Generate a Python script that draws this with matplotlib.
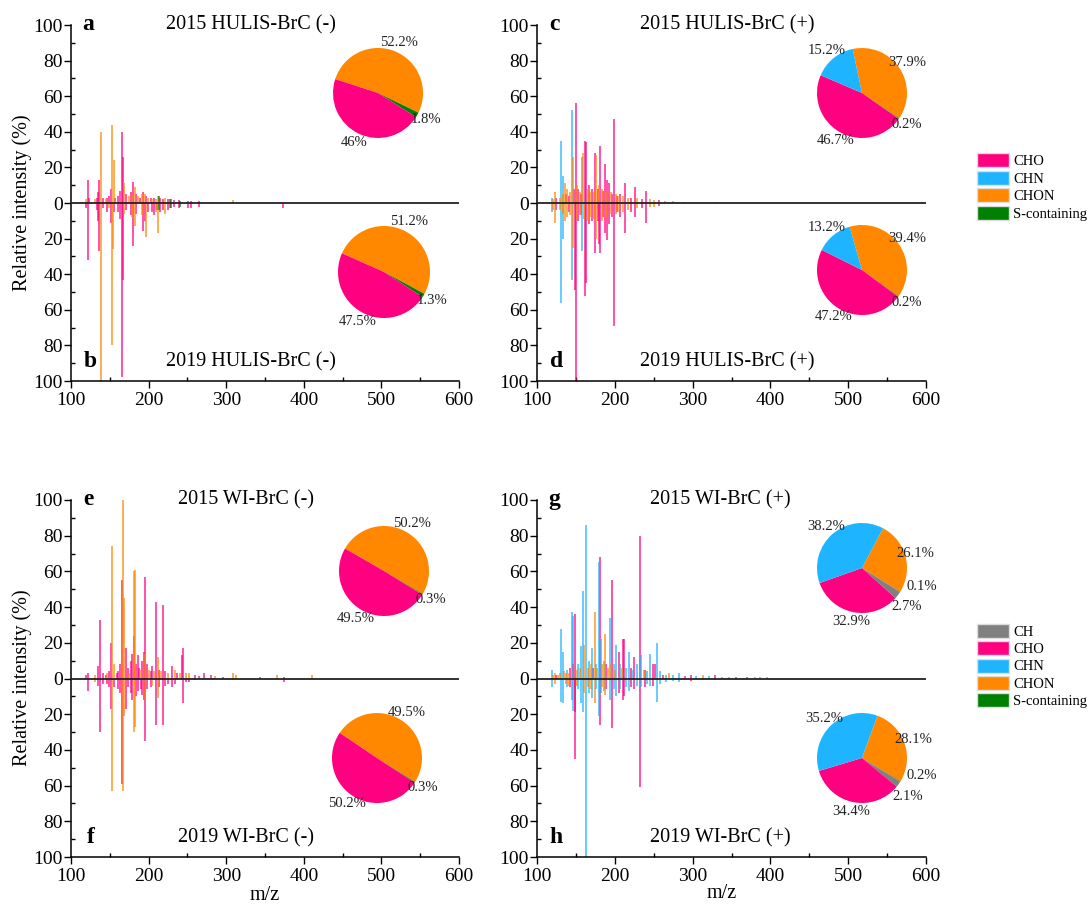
import numpy as np
import matplotlib.pyplot as plt
from matplotlib.patches import Patch
from matplotlib.ticker import MultipleLocator

plt.rcParams['font.family'] = ['Liberation Serif', 'DejaVu Serif']

# class colours
colors = {'CH': '#808080', 'CHO': '#FF0080', 'CHN': '#1EB4FF',
          'CHON': '#FF8800', 'S': '#008000'}

# peaks: (m/z, relative intensity %, class)
hulis_neg_2015 = [
    (119, 2, 'CHON'), (121.5, 13, 'CHO'), (123, 3, 'CHO'), (131, 2, 'CHON'), (133, 3, 'CHO'),
    (135, 6, 'CHO'), (136.5, 13, 'CHO'), (138.7, 40, 'CHON'), (141, 3, 'CHO'), (145, 2, 'CHON'),
    (147, 3, 'CHO'), (149, 4, 'CHO'), (151, 8, 'CHO'), (152.4, 44, 'CHON'), (155, 24, 'CHON'),
    (157, 3, 'CHO'), (161, 4, 'CHO'), (163, 7, 'CHO'), (165.7, 40, 'CHO'), (167, 26, 'CHO'),
    (168.5, 11, 'CHON'), (171, 5, 'CHO'), (175, 4, 'CHON'), (177, 6, 'CHO'), (179, 4, 'CHON'),
    (180.3, 12, 'CHO'), (182, 9, 'CHON'), (184, 5, 'CHO'), (186, 4, 'CHON'), (189, 3, 'CHO'),
    (191, 5, 'CHON'), (193, 6, 'CHO'), (195, 5, 'CHON'), (197, 4, 'CHO'), (199, 3, 'CHON'),
    (203, 3, 'CHO'), (205, 2, 'CHON'), (207, 3, 'CHO'), (209, 2, 'CHON'), (212, 4, 'CHON'),
    (213, 4, 'S'), (215, 3, 'CHO'), (219, 2, 'CHO'), (221, 3, 'CHON'), (225, 2, 'CHO'),
    (227, 2, 'S'), (229, 2, 'CHO'), (233, 1.5, 'CHO'), (239, 1.5, 'CHO'), (241, 1, 'S'),
    (251, 1, 'CHO'), (255, 1, 'CHO'), (265, 1, 'CHO'), (283, 0.8, 'CHO'), (309, 1.5, 'CHON'),
]
hulis_neg_2019 = [
    (119, 3, 'CHO'), (121.5, 32, 'CHO'), (133, 4, 'CHO'), (135, 10, 'CHO'), (136.5, 27, 'CHO'),
    (138.7, 100, 'CHON'), (141, 3, 'CHO'), (147, 5, 'CHO'), (149, 3, 'CHON'), (151, 11, 'CHO'),
    (152.4, 80, 'CHON'), (153.5, 26, 'CHON'), (155, 5, 'CHO'), (161, 5, 'CHO'), (163, 9, 'CHO'),
    (165.7, 98, 'CHO'), (167, 43, 'CHO'), (168.5, 6, 'CHON'), (171, 4, 'CHO'), (177, 7, 'CHO'),
    (179, 8, 'CHON'), (180.3, 24, 'CHO'), (182, 13, 'CHON'), (184, 6, 'CHO'), (191, 7, 'CHON'),
    (193, 16, 'CHO'), (195, 10, 'CHO'), (197, 19, 'CHON'), (199, 5, 'CHO'), (205, 5, 'CHO'),
    (207, 7, 'CHO'), (209, 5, 'CHON'), (211, 4, 'CHO'), (212.5, 17, 'CHON'), (213, 4, 'S'),
    (215, 5, 'CHO'), (219, 4, 'CHO'), (221, 6, 'CHON'), (225, 4, 'CHO'), (227, 3, 'CHO'),
    (229, 3, 'S'), (233, 2, 'CHO'), (239, 3, 'CHO'), (241, 2, 'S'), (251, 3, 'CHO'),
    (255, 3, 'CHO'), (265, 2, 'CHO'), (373, 3, 'CHO'),
]
hulis_pos_2015 = [
    (119, 3, 'CHN'), (121, 2, 'CHON'), (123, 6, 'CHON'), (125, 3, 'CHO'), (129, 3, 'CHON'),
    (131, 35, 'CHN'), (133, 5, 'CHON'), (134, 15, 'CHN'), (136, 11, 'CHON'), (137, 5, 'CHO'),
    (139, 8, 'CHON'), (141, 4, 'CHO'), (143, 6, 'CHON'), (144.7, 52, 'CHN'), (146, 26, 'CHON'),
    (147, 8, 'CHO'), (149.9, 56, 'CHO'), (151, 10, 'CHON'), (153, 8, 'CHO'), (155, 6, 'CHON'),
    (157, 5, 'CHO'), (158.4, 26, 'CHN'), (159.5, 28, 'CHON'), (161.9, 35, 'CHO'), (163, 34, 'CHO'),
    (165, 8, 'CHON'), (167, 10, 'CHO'), (169, 6, 'CHON'), (171, 8, 'CHO'), (173, 6, 'CHON'),
    (174.8, 28, 'CHO'), (176, 27, 'CHON'), (178, 8, 'CHO'), (180, 10, 'CHON'), (181.6, 32, 'CHO'),
    (183, 8, 'CHON'), (185, 7, 'CHO'), (187, 22, 'CHO'), (189, 6, 'CHON'), (190, 13, 'CHO'),
    (193, 11, 'CHO'), (195, 6, 'CHON'), (197, 5, 'CHO'), (199.3, 47, 'CHO'), (201, 5, 'CHON'),
    (203, 4, 'CHO'), (205, 4, 'CHON'), (207, 5, 'CHO'), (211, 4, 'CHON'), (213.4, 11, 'CHO'),
    (217, 3, 'CHON'), (221, 3, 'CHO'), (225.6, 9, 'CHO'), (229, 3, 'CHON'), (235, 2, 'CHO'),
    (240, 7, 'CHO'), (245, 2, 'CHON'), (251, 1.5, 'CHON'), (257, 1.5, 'CHO'), (265, 1, 'CHON'),
    (275, 1, 'CHON'), (289, 0.6, 'CHO'), (329, 0.8, 'CHO'),
]
hulis_pos_2019 = [
    (119, 5, 'CHN'), (121, 4, 'CHON'), (123, 11, 'CHON'), (125, 4, 'CHO'), (129, 4, 'CHON'),
    (131, 56, 'CHN'), (133, 6, 'CHON'), (134, 20, 'CHN'), (136, 10, 'CHON'), (139, 8, 'CHON'),
    (141, 5, 'CHO'), (143, 7, 'CHON'), (144.7, 43, 'CHN'), (146, 25, 'CHON'), (148.5, 49, 'CHO'),
    (149.9, 100, 'CHO'), (151, 9, 'CHON'), (153, 10, 'CHO'), (155, 7, 'CHON'), (157, 7, 'CHO'),
    (158.4, 27, 'CHN'), (160, 9, 'CHON'), (161.9, 52, 'CHO'), (163, 45, 'CHO'), (165, 10, 'CHON'),
    (167, 12, 'CHO'), (169, 8, 'CHON'), (171, 10, 'CHO'), (173, 9, 'CHON'), (174.8, 28, 'CHO'),
    (176, 20, 'CHON'), (178, 10, 'CHO'), (180, 23, 'CHO'), (181.6, 28, 'CHO'), (183, 10, 'CHON'),
    (185, 8, 'CHO'), (187, 17, 'CHO'), (189, 8, 'CHON'), (190, 21, 'CHO'), (193, 12, 'CHO'),
    (195, 6, 'CHON'), (197, 8, 'CHO'), (199.3, 69, 'CHO'), (201, 6, 'CHON'), (203, 5, 'CHO'),
    (205, 5, 'CHON'), (207, 8, 'CHO'), (211, 5, 'CHON'), (213.4, 17, 'CHO'), (217, 4, 'CHON'),
    (221, 5, 'CHO'), (225.6, 8, 'CHO'), (229, 3, 'CHON'), (235, 3, 'CHO'), (240, 11, 'CHO'),
    (245, 2, 'CHON'), (251, 2, 'CHON'), (257, 1.5, 'CHO'),
]
wi_neg_2015 = [
    (119, 2, 'CHO'), (121.5, 3, 'CHO'), (131, 2, 'CHON'), (135.4, 7, 'CHO'), (137.4, 33, 'CHO'),
    (141, 3, 'CHO'), (145, 2, 'CHO'), (147, 3, 'CHON'), (149, 4, 'CHO'), (151.6, 20, 'CHO'),
    (152.4, 74, 'CHON'), (155, 8, 'CHON'), (159, 3, 'CHO'), (161, 4, 'CHO'), (163, 8, 'CHO'),
    (165.3, 55, 'CHO'), (167, 100, 'CHON'), (168, 45, 'CHON'), (171.2, 17, 'CHO'), (173, 6, 'CHO'),
    (175, 3, 'CHON'), (177, 10, 'CHO'), (179, 14, 'CHO'), (180.6, 60, 'CHON'), (181, 24, 'CHO'),
    (182, 61, 'CHON'), (184, 8, 'CHO'), (186, 13, 'CHO'), (188, 6, 'CHO'), (190, 5, 'CHON'),
    (192, 10, 'CHO'), (194, 15, 'CHO'), (195.4, 57, 'CHO'), (196, 14, 'CHON'), (198, 8, 'CHO'),
    (200, 5, 'CHON'), (203, 4, 'CHO'), (205, 7, 'CHO'), (207, 4, 'CHON'), (209.6, 43, 'CHO'),
    (211.6, 12, 'CHON'), (214, 5, 'CHO'), (216, 4, 'CHON'), (218.2, 41, 'CHO'), (221, 4, 'CHO'),
    (225, 3, 'CHON'), (230, 7, 'CHO'), (234, 5, 'CHON'), (237, 3, 'CHO'), (241, 3, 'CHON'),
    (243.6, 13, 'CHO'), (244.8, 17, 'CHO'), (248, 3, 'CHON'), (252, 3, 'CHON'), (260, 2, 'CHO'),
    (265, 1.5, 'CHO'), (271.7, 3, 'CHO'), (280, 2, 'CHO'), (285, 1.5, 'CHON'), (296, 1, 'CHO'),
    (309, 3, 'CHON'), (312, 2, 'CHON'), (343, 1, 'CHO'), (365, 2, 'CHON'), (374, 1, 'CHO'),
    (410, 2, 'CHON'),
]
wi_neg_2019 = [
    (121.5, 7, 'CHO'), (131, 2, 'CHON'), (135.4, 4, 'CHO'), (137.4, 30, 'CHO'), (141, 3, 'CHO'),
    (147, 3, 'CHO'), (149, 5, 'CHO'), (151.6, 17, 'CHO'), (152.4, 63, 'CHON'), (155, 5, 'CHO'),
    (161, 6, 'CHO'), (163, 8, 'CHO'), (165.3, 59, 'CHO'), (167, 63, 'CHON'), (168, 21, 'CHON'),
    (171.2, 17, 'CHO'), (173, 5, 'CHO'), (177, 8, 'CHO'), (179, 12, 'CHO'), (180.6, 30, 'CHON'),
    (182, 27, 'CHON'), (184, 10, 'CHO'), (186, 7, 'CHO'), (190, 6, 'CHO'), (192, 9, 'CHO'),
    (194, 12, 'CHO'), (195.4, 35, 'CHO'), (196, 12, 'CHON'), (198, 6, 'CHO'), (203, 5, 'CHO'),
    (205, 4, 'CHON'), (209.6, 26, 'CHO'), (211.6, 11, 'CHON'), (214, 5, 'CHO'), (218.2, 26, 'CHO'),
    (221, 4, 'CHO'), (225, 3, 'CHO'), (230, 5, 'CHO'), (234, 3, 'CHO'), (244.8, 14, 'CHO'),
    (248, 2, 'CHO'), (252, 2, 'CHO'), (260, 1, 'CHO'), (374, 2, 'CHO'),
]
wi_pos_2015 = [
    (119, 5, 'CHN'), (121, 2, 'CHON'), (123, 3, 'CHON'), (125, 2, 'CHO'), (127, 2, 'CHON'),
    (129, 3, 'CHON'), (131, 28, 'CHN'), (133, 15, 'CHN'), (135, 4, 'CHON'), (137, 3, 'CHON'),
    (139, 5, 'CHN'), (141, 3, 'CHON'), (143, 6, 'CHO'), (144.7, 37, 'CHN'), (145.7, 8, 'CH'),
    (146.8, 35, 'CHN'), (149.4, 36, 'CHO'), (151, 5, 'CHON'), (153, 8, 'CHN'), (155, 6, 'CHON'),
    (157, 18, 'CHN'), (158.8, 49, 'CHN'), (161, 19, 'CHON'), (163.5, 86, 'CHN'), (165, 6, 'CHON'),
    (167, 10, 'CHN'), (169, 8, 'CHON'), (171, 17, 'CHN'), (172, 6, 'CHO'), (174, 37, 'CHON'),
    (176, 8, 'CHN'), (177, 6, 'CHON'), (179.8, 65, 'CHN'), (180.6, 68, 'CHO'), (182, 22, 'CHN'),
    (184, 8, 'CHON'), (186, 10, 'CHN'), (187.6, 25, 'CHON'), (189, 8, 'CHO'), (191, 6, 'CHON'),
    (194, 34, 'CHN'), (195, 8, 'CHON'), (197, 55, 'CHO'), (199, 8, 'CHN'), (200, 5, 'CHON'),
    (202, 19, 'CHN'), (205, 15, 'CHO'), (207, 8, 'CHN'), (209, 6, 'CHON'), (210, 22, 'CHO'),
    (212.3, 22, 'CHO'), (215, 6, 'CHN'), (218, 15, 'CHN'), (221, 6, 'CHO'), (223, 5, 'CHN'),
    (225, 12, 'CHO'), (228, 8, 'CHN'), (231.9, 80, 'CHO'), (234, 13, 'CHN'), (237, 5, 'CHON'),
    (239, 5, 'CHO'), (242, 4, 'CHN'), (245.6, 14, 'CHN'), (248.6, 8, 'CHO'), (252, 8, 'CHO'),
    (254, 20, 'CHN'), (258.6, 4, 'CHN'), (262, 2, 'CHO'), (266, 2, 'CHN'), (270, 3, 'CHON'),
    (275, 2, 'CHN'), (283, 3, 'CHN'), (290, 1.5, 'CHO'), (298, 2, 'CHO'), (305, 1.5, 'CHN'),
    (313, 2, 'CHON'), (321, 1.5, 'CHN'), (329, 2, 'CHO'), (338, 1, 'CHN'), (347, 1, 'CHN'),
    (356, 1, 'CHO'), (370, 1, 'CHO'), (380, 1, 'CHN'), (387, 1, 'CHN'), (396, 1, 'CHN'),
]
wi_pos_2019 = [
    (119, 5, 'CHN'), (123, 3, 'CHON'), (131, 13, 'CHN'), (133, 14, 'CHN'), (137, 3, 'CHON'),
    (139, 5, 'CHN'), (141, 4, 'CHON'), (143, 5, 'CHO'), (144.7, 12, 'CHN'), (146.8, 18, 'CHN'),
    (148.5, 19, 'CHO'), (149.4, 45, 'CHO'), (151, 4, 'CHON'), (153, 6, 'CHN'), (157, 14, 'CHN'),
    (158.8, 19, 'CHN'), (161, 8, 'CHON'), (163.5, 100, 'CHN'), (165, 5, 'CHON'), (167, 8, 'CHN'),
    (169, 6, 'CHON'), (171, 11, 'CHN'), (174, 14, 'CHON'), (176, 6, 'CHN'), (179.8, 21, 'CHN'),
    (180.6, 26, 'CHO'), (182, 8, 'CHN'), (184, 5, 'CHON'), (186, 7, 'CHN'), (187.6, 9, 'CHON'),
    (189, 6, 'CHO'), (194, 12, 'CHN'), (197, 28, 'CHO'), (199, 6, 'CHN'), (202, 10, 'CHN'),
    (205, 8, 'CHO'), (207, 6, 'CHN'), (210, 12, 'CHO'), (212.3, 10, 'CHO'), (215, 5, 'CHN'),
    (218, 7, 'CHN'), (221, 5, 'CHO'), (225, 6, 'CHO'), (228, 4, 'CHN'), (231.9, 61, 'CHO'),
    (234, 5, 'CHN'), (239, 5, 'CHO'), (242, 3, 'CHN'), (245.6, 4, 'CHN'), (248.6, 4, 'CHO'),
    (254, 13, 'CHN'), (258.6, 3, 'CHN'), (266, 2, 'CHN'), (275, 1.5, 'CHN'), (283, 2, 'CHN'),
    (298, 1.5, 'CHO'), (313, 1, 'CHON'), (329, 1, 'CHO'),
]

# pie compositions (%), wedge order clockwise: CHON, S, CH, CHO, CHN
pie_classes = ['CHON', 'S', 'CH', 'CHO', 'CHN']
pie_a = [52.2, 1.8, 0, 46.0, 0]
pie_b = [51.2, 1.3, 0, 47.5, 0]
pie_c = [37.9, 0.2, 0, 46.7, 15.2]
pie_d = [39.4, 0.2, 0, 47.2, 13.2]
pie_e = [50.2, 0.3, 0, 49.5, 0]
pie_f = [49.5, 0.3, 0, 50.2, 0]
pie_g = [26.1, 0.1, 2.7, 32.9, 38.2]
pie_h = [28.1, 0.2, 2.1, 34.4, 35.2]
pie_a_txt = ['52.2%', '1.8%', '', '46%', '']
pie_b_txt = ['51.2%', '1.3%', '', '47.5%', '']
pie_c_txt = ['37.9%', '0.2%', '', '46.7%', '15.2%']
pie_d_txt = ['39.4%', '0.2%', '', '47.2%', '13.2%']
pie_e_txt = ['50.2%', '0.3%', '', '49.5%', '']
pie_f_txt = ['49.5%', '0.3%', '', '50.2%', '']
pie_g_txt = ['26.1%', '0.1%', '2.7%', '32.9%', '38.2%']
pie_h_txt = ['28.1%', '0.2%', '2.1%', '34.4%', '35.2%']

W, H = 1089, 906
fig = plt.figure(figsize=(W / 100, H / 100), dpi=100)


def px_axes(x0, y0, x1, y1):
    return fig.add_axes([x0 / W, 1 - y1 / H, (x1 - x0) / W, (y1 - y0) / H])


def draw_spectrum(ax, up, down, t_up, t_down, l_up, l_down, tx):
    for cls in ['CHO', 'CHN', 'CHON', 'CH', 'S']:
        xs = [p[0] for p in up if p[2] == cls]
        ys = [p[1] for p in up if p[2] == cls]
        ax.vlines(xs, 0, ys, color=colors[cls], lw=1.2, alpha=0.8)
        xs = [p[0] for p in down if p[2] == cls]
        ys = [-p[1] for p in down if p[2] == cls]
        ax.vlines(xs, 0, ys, color=colors[cls], lw=1.2, alpha=0.8)
    ax.axhline(0, color='#222222', lw=1.3, zorder=5)
    ax.set_xlim(100, 600)
    ax.set_ylim(-100, 100)
    ax.set_xticks(range(100, 601, 100))
    ax.xaxis.set_minor_locator(MultipleLocator(50))
    ax.set_yticks(range(-100, 101, 20))
    ax.set_yticklabels([str(abs(v)) for v in range(-100, 101, 20)])
    ax.yaxis.set_minor_locator(MultipleLocator(10))
    ax.tick_params(which='major', direction='out', length=5, width=1,
                   labelsize=14, pad=1)
    ax.tick_params(axis='x', which='major', pad=3)
    ax.tick_params(which='minor', direction='in', length=3, width=1)
    for s in ['top', 'right']:
        ax.spines[s].set_visible(False)
    for s in ['left', 'bottom']:
        ax.spines[s].set_linewidth(1.1)
    ax.text(0.044, 1.0, l_up, transform=ax.transAxes, fontsize=17,
            fontweight='bold', ha='center', va='center')
    ax.text(0.05, 0.055, l_down, transform=ax.transAxes, fontsize=17,
            fontweight='bold', ha='center', va='center')
    ax.text(tx, 1.0, t_up, transform=ax.transAxes, fontsize=14.5,
            ha='center', va='center')
    ax.text(tx, 0.055, t_down, transform=ax.transAxes, fontsize=14.5,
            ha='center', va='center')


def draw_pie(cx, cy, r, vals, txt, start, moves=None):
    ax = px_axes(cx - r, cy - r, cx + r, cy + r)
    wedges, texts = ax.pie(vals, labels=txt, colors=[colors[c] for c in pie_classes],
                           startangle=start, counterclock=False, labeldistance=1.22,
                           wedgeprops=dict(linewidth=0))
    for t in texts:
        t.set_ha('center')
        t.set_va('center')
        t.set_fontsize(10.5)
        t.set_color('#222222')
    # hand placed labels for the thin wedges (angle in degrees, distance in radii)
    for idx, (ang, dist) in (moves or {}).items():
        a = np.deg2rad(ang)
        texts[idx].set_position((dist * np.cos(a), dist * np.sin(a)))
    ax.set_xlim(-1, 1)
    ax.set_ylim(-1, 1)


ax1 = px_axes(71, 25, 459, 381)
draw_spectrum(ax1, hulis_neg_2015, hulis_neg_2019, '2015 HULIS-BrC (-)',
              '2019 HULIS-BrC (-)', 'a', 'b', 0.464)
ax2 = px_axes(537, 25, 926, 381)
draw_spectrum(ax2, hulis_pos_2015, hulis_pos_2019, '2015 HULIS-BrC (+)',
              '2019 HULIS-BrC (+)', 'c', 'd', 0.488)
ax3 = px_axes(71, 500, 459, 857)
draw_spectrum(ax3, wi_neg_2015, wi_neg_2019, '2015 WI-BrC (-)',
              '2019 WI-BrC (-)', 'e', 'f', 0.45)
ax4 = px_axes(537, 500, 926, 857)
draw_spectrum(ax4, wi_pos_2015, wi_pos_2019, '2015 WI-BrC (+)',
              '2019 WI-BrC (+)', 'g', 'h', 0.47)

draw_pie(378, 93, 45, pie_a, pie_a_txt, 162)
draw_pie(384, 272, 46, pie_b, pie_b_txt, 156)
draw_pie(862, 93, 45, pie_c, pie_c_txt, 102)
draw_pie(862, 270, 45, pie_d, pie_d_txt, 106)
draw_pie(384, 571, 45, pie_e, pie_e_txt, 150)
draw_pie(377, 758, 45, pie_f, pie_f_txt, 146)
draw_pie(862, 568, 45, pie_g, pie_g_txt, 62, moves={1: (-17, 1.38), 2: (-41, 1.3)})
draw_pie(862, 758, 45, pie_h, pie_h_txt, 70, moves={1: (-16, 1.38), 2: (-40, 1.32)})

fig.text(22 / W, 1 - 203 / H, 'Relative intensity (%)', rotation=90,
         fontsize=14.5, ha='center', va='center')
fig.text(22 / W, 1 - 678 / H, 'Relative intensity (%)', rotation=90,
         fontsize=14.5, ha='center', va='center')
fig.text(265 / W, 1 - 895 / H, 'm/z', fontsize=14.5, ha='center', va='center')
fig.text(722 / W, 1 - 893 / H, 'm/z', fontsize=14.5, ha='center', va='center')

names = {'CH': 'CH', 'CHO': 'CHO', 'CHN': 'CHN', 'CHON': 'CHON', 'S': 'S-containing'}
leg_kw = dict(loc='center left', frameon=False, fontsize=10.5, handlelength=2.2,
              handleheight=1.1, labelspacing=0.17, handletextpad=0.3, borderpad=0,
              borderaxespad=0)
top_cls = ['CHO', 'CHN', 'CHON', 'S']
bot_cls = ['CH', 'CHO', 'CHN', 'CHON', 'S']
fig.legend(handles=[Patch(facecolor=colors[c], edgecolor='#dddddd', label=names[c])
                    for c in top_cls],
           bbox_to_anchor=(977 / W, 1 - 187 / H), **leg_kw)
fig.legend(handles=[Patch(facecolor=colors[c], edgecolor='#dddddd', label=names[c])
                    for c in bot_cls],
           bbox_to_anchor=(977 / W, 1 - 666 / H), **leg_kw)

fig.savefig('out.png', dpi=100)
